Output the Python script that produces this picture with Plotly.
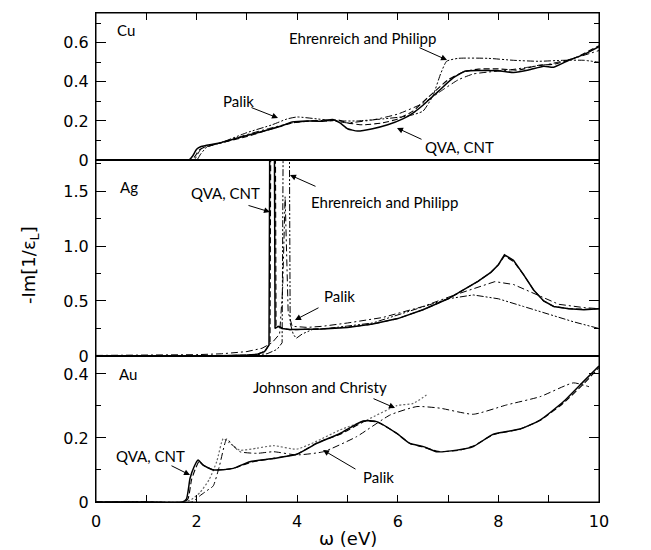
import plotly.graph_objects as go
from plotly.subplots import make_subplots

# ---------------- Cu panel data ----------------
cu_qva_x = [0, 1.0, 1.85, 1.92, 2.0, 2.08, 2.2, 2.5, 3.0, 3.5, 3.7, 3.9, 4.2, 4.5, 4.7, 4.85, 5.0, 5.2, 5.5, 5.8, 6.1, 6.3, 6.5, 6.8, 7.1, 7.35, 7.6, 8.0, 8.3, 8.6, 8.9, 9.1, 9.4, 9.7, 10.0]
cu_qva_y = [0, 0, 0, 0.02, 0.055, 0.068, 0.075, 0.09, 0.125, 0.16, 0.175, 0.195, 0.2, 0.198, 0.207, 0.19, 0.16, 0.148, 0.16, 0.18, 0.21, 0.24, 0.28, 0.35, 0.42, 0.455, 0.458, 0.457, 0.448, 0.46, 0.48, 0.475, 0.51, 0.54, 0.58]
cu_cnt_x = [0, 1.0, 1.9, 1.97, 2.05, 2.15, 2.3, 2.6, 3.0, 3.5, 3.9, 4.3, 4.6, 4.8, 5.0, 5.3, 5.7, 6.0, 6.3, 6.6, 7.0, 7.3, 7.6, 8.0, 8.4, 8.8, 9.1, 9.5, 10.0]
cu_cnt_y = [0, 0, 0, 0.02, 0.05, 0.065, 0.075, 0.095, 0.12, 0.16, 0.19, 0.2, 0.2, 0.205, 0.19, 0.18, 0.19, 0.21, 0.25, 0.32, 0.41, 0.45, 0.465, 0.466, 0.46, 0.485, 0.49, 0.52, 0.585]
cu_palik_x = [0, 1.0, 1.95, 2.02, 2.1, 2.25, 2.6, 3.0, 3.5, 3.9, 4.3, 4.7, 5.0, 5.5, 6.0, 6.5, 6.9, 7.2, 7.5, 7.8, 8.2, 8.6, 9.0, 9.5, 10.0]
cu_palik_y = [0, 0, 0, 0.03, 0.06, 0.072, 0.095, 0.13, 0.165, 0.19, 0.2, 0.2, 0.19, 0.205, 0.235, 0.29, 0.36, 0.41, 0.44, 0.45, 0.46, 0.475, 0.49, 0.52, 0.56]
cu_ep_x = [0, 1.0, 2.0, 2.08, 2.2, 2.5, 3.0, 3.5, 3.8, 4.0, 4.4, 4.8, 5.2, 5.7, 6.2, 6.5, 6.7, 6.85, 6.97, 7.2, 7.8, 8.3, 8.8, 9.3, 9.7, 10.0]
cu_ep_y = [0, 0, 0, 0.03, 0.065, 0.09, 0.14, 0.18, 0.21, 0.22, 0.21, 0.2, 0.2, 0.21, 0.225, 0.25, 0.33, 0.44, 0.505, 0.52, 0.52, 0.51, 0.505, 0.51, 0.51, 0.5]

# ---------------- Ag panel data ----------------
ag_qva_x = [0, 1.0, 2.0, 2.5, 3.0, 3.2, 3.35, 3.44, 3.5, 3.56, 3.62, 3.7, 3.85, 4.0, 4.5, 5.0, 5.5, 6.0, 6.5, 7.0, 7.3, 7.6, 7.85, 8.0, 8.12, 8.3, 8.5, 8.7, 8.9, 9.1, 9.4, 9.7, 10.0]
ag_qva_y = [0, 0, 0, 0.003, 0.008, 0.015, 0.04, 0.1, 8.0, 0.25, 0.27, 0.25, 0.24, 0.24, 0.245, 0.26, 0.29, 0.34, 0.42, 0.52, 0.6, 0.68, 0.76, 0.83, 0.92, 0.87, 0.74, 0.6, 0.5, 0.45, 0.43, 0.42, 0.43]
ag_cnt_x = [0, 1.0, 2.0, 2.5, 3.0, 3.2, 3.37, 3.46, 3.52, 3.58, 3.64, 3.72, 3.85, 4.0, 4.5, 5.0, 5.5, 6.0, 6.5, 7.0, 7.3, 7.6, 7.85, 8.0, 8.12, 8.3, 8.5, 8.7, 8.9, 9.1, 9.4, 9.7, 10.0]
ag_cnt_y = [0, 0, 0, 0.003, 0.008, 0.015, 0.045, 0.12, 8.0, 0.26, 0.27, 0.25, 0.24, 0.24, 0.248, 0.262, 0.29, 0.34, 0.42, 0.52, 0.6, 0.68, 0.76, 0.83, 0.91, 0.86, 0.74, 0.6, 0.5, 0.45, 0.43, 0.425, 0.43]
ag_palik_x = [0, 1.0, 2.0, 2.5, 3.0, 3.3, 3.5, 3.65, 3.71, 3.76, 3.82, 3.9, 4.2, 4.5, 5.0, 5.7, 6.5, 7.1, 7.6, 7.93, 8.3, 8.8, 9.2, 9.7, 10.0]
ag_palik_y = [0.005, 0.008, 0.012, 0.02, 0.04, 0.07, 0.12, 0.2, 0.6, 1.45, 0.4, 0.27, 0.26, 0.27, 0.3, 0.35, 0.45, 0.55, 0.63, 0.676, 0.65, 0.55, 0.47, 0.44, 0.43]
ag_ep_x = [0, 1.0, 2.0, 3.0, 3.4, 3.6, 3.7, 3.79, 3.86, 3.92, 3.98, 4.1, 4.3, 4.6, 5.5, 6.5, 7.0, 7.5, 8.0, 8.5, 9.0, 9.5, 10.0]
ag_ep_y = [0, 0, 0, 0.005, 0.02, 0.06, 0.12, 8.0, 0.3, 0.2, 0.16, 0.2, 0.24, 0.25, 0.3, 0.45, 0.52, 0.555, 0.52, 0.45, 0.38, 0.31, 0.25]

# ---------------- Au panel data ----------------
au_qva_x = [0, 1.0, 1.72, 1.8, 1.87, 1.95, 2.03, 2.13, 2.33, 2.73, 3.06, 3.53, 3.99, 4.39, 4.85, 5.31, 5.58, 5.98, 6.24, 6.51, 6.77, 7.17, 7.5, 7.9, 8.43, 8.83, 9.29, 9.69, 10.0]
au_qva_y = [0, 0, 0, 0.01, 0.074, 0.11, 0.131, 0.115, 0.1, 0.105, 0.126, 0.136, 0.149, 0.183, 0.214, 0.253, 0.251, 0.214, 0.183, 0.173, 0.157, 0.162, 0.173, 0.212, 0.228, 0.256, 0.313, 0.376, 0.425]
au_cnt_x = [0, 1.0, 1.75, 1.83, 1.9, 1.98, 2.05, 2.15, 2.35, 2.75, 3.1, 3.55, 4.0, 4.4, 4.9, 5.35, 5.6, 6.0, 6.25, 6.5, 6.8, 7.2, 7.5, 7.9, 8.45, 8.85, 9.3, 9.7, 10.0]
au_cnt_y = [0, 0, 0, 0.01, 0.07, 0.105, 0.127, 0.113, 0.1, 0.106, 0.125, 0.137, 0.15, 0.185, 0.215, 0.252, 0.249, 0.212, 0.182, 0.172, 0.158, 0.161, 0.175, 0.21, 0.229, 0.257, 0.31, 0.37, 0.42]
au_palik_x = [0, 1.0, 1.9, 2.07, 2.2, 2.33, 2.45, 2.6, 2.7, 2.86, 3.2, 3.53, 3.99, 4.52, 5.18, 5.85, 6.38, 6.84, 7.5, 8.16, 8.83, 9.49, 9.8]
au_palik_y = [0, 0, 0, 0.02, 0.035, 0.05, 0.11, 0.198, 0.18, 0.157, 0.152, 0.157, 0.147, 0.157, 0.204, 0.272, 0.298, 0.293, 0.274, 0.303, 0.329, 0.372, 0.36]
au_jc_x = [0, 1.0, 1.75, 1.9, 2.07, 2.25, 2.4, 2.53, 2.65, 2.86, 3.2, 3.53, 3.99, 4.39, 4.85, 5.38, 5.98, 6.31, 6.57]
au_jc_y = [0, 0, 0, 0.008, 0.03, 0.07, 0.126, 0.198, 0.185, 0.162, 0.168, 0.176, 0.165, 0.19, 0.225, 0.256, 0.301, 0.308, 0.334]

# ---------------- axis ticks ----------------
x_major = [0, 2, 4, 6, 8, 10]
x_major_text = ["0", "2", "4", "6", "8", "10"]
x_minor = [1, 3, 5, 7, 9]
cu_ticks = [0, 0.2, 0.4, 0.6]
cu_ticktext = ["0", "0.2", "0.4", "0.6"]
cu_minor = [0.1, 0.3, 0.5, 0.7]
ag_ticks = [0, 0.5, 1.0, 1.5]
ag_ticktext = ["0", "0.5", "1.0", "1.5"]
ag_minor = [0.25, 0.75, 1.25, 1.75]
au_ticks = [0, 0.2, 0.4]
au_ticktext = ["0", "0.2", "0.4"]
au_minor = [0.1, 0.3]

fig = make_subplots(rows=3, cols=1, shared_xaxes=True, vertical_spacing=0)

SOLID = dict(color="black", width=1.5)
CNT = dict(color="black", width=1.1, dash="6px,3px")
PALIK = dict(color="black", width=1.0, dash="7px,3px,2px,3px")
EP = dict(color="black", width=1.0, dash="7px,2px,2px,2px,2px,2px")
JC = dict(color="#666666", width=1.2, dash="2px,2px")

def add(x, y, line, row, shape="spline"):
    fig.add_trace(go.Scatter(x=x, y=y, mode="lines", line=dict(shape=shape, smoothing=0.5, **line),
                             showlegend=False, hoverinfo="skip"), row=row, col=1)

add(cu_ep_x, cu_ep_y, EP, 1)
add(cu_palik_x, cu_palik_y, PALIK, 1)
add(cu_cnt_x, cu_cnt_y, CNT, 1)
add(cu_qva_x, cu_qva_y, SOLID, 1)

add(ag_ep_x, ag_ep_y, EP, 2, "linear")
add(ag_palik_x, ag_palik_y, PALIK, 2, "linear")
add(ag_cnt_x, ag_cnt_y, CNT, 2, "linear")
add(ag_qva_x, ag_qva_y, SOLID, 2, "linear")

add(au_jc_x, au_jc_y, JC, 3)
add(au_palik_x, au_palik_y, PALIK, 3)
add(au_cnt_x, au_cnt_y, CNT, 3)
add(au_qva_x, au_qva_y, SOLID, 3)

TICKFONT = dict(family="DejaVu Sans", size=16, color="black")

def yax(ticks, text, minor, rng, dom):
    return dict(range=rng, domain=dom, tickmode="array", tickvals=ticks, ticktext=text,
                ticks="inside", ticklen=10, tickwidth=1, tickcolor="black", ticklabelstandoff=3,
                minor=dict(tickmode="array", tickvals=minor, ticks="inside", ticklen=5, tickcolor="black", tickwidth=1),
                showline=True, linecolor="black", linewidth=1, mirror="ticks",
                showgrid=False, zeroline=False, tickfont=TICKFONT, fixedrange=True)

fig.update_layout(
    yaxis=yax(cu_ticks, cu_ticktext, cu_minor, [0, 0.752], [0.6994, 1.0]),
    yaxis2=yax(ag_ticks, ag_ticktext, ag_minor, [0, 1.782], [0.2986, 0.6994]),
    yaxis3=yax(au_ticks, au_ticktext, au_minor, [0, 0.456], [0.0, 0.2986]),
)

xcommon = dict(range=[0, 10], showline=True, linecolor="black", linewidth=1, mirror=True,
               showgrid=False, zeroline=False)
fig.update_layout(
    xaxis=dict(**xcommon, side="top", ticks="inside", ticklen=7, tickcolor="black",
               tickmode="array", tickvals=x_major, showticklabels=False,
               minor=dict(tickmode="array", tickvals=x_minor, ticks="inside", ticklen=7, tickcolor="black")),
    xaxis2=dict(**xcommon, ticks="", showticklabels=False),
    xaxis3=dict(**xcommon, ticks="inside", ticklen=7, tickcolor="black", ticklabelstandoff=5,
                tickmode="array", tickvals=x_major, ticktext=x_major_text, tickfont=TICKFONT,
                minor=dict(tickmode="array", tickvals=x_minor, ticks="inside", ticklen=7, tickcolor="black")),
)

shapes = []
for xr, yr in [("x", "y"), ("x2", "y2"), ("x3", "y3")]:
    shapes.append(dict(type="rect", xref=f"{xr} domain", yref=f"{yr} domain", x0=0, x1=1, y0=0, y1=1,
                       line=dict(color="black", width=1), layer="above"))

L, R, T, B = 96, 599, 13, 502
W, H = 651, 550
def px2paper(px, py):
    return (px - L) / (R - L), (B - py) / (B - T)

LABFONT = dict(family="Lato", size=15, color="black")
annots = []
for txt, (px, py) in [("Cu", (126, 30)), ("Ag", (129, 187)), ("Au", (128, 374))]:
    xp, yp = px2paper(px, py)
    annots.append(dict(text=txt, x=xp, y=yp, xref="paper", yref="paper", showarrow=False,
                       xanchor="center", yanchor="middle",
                       font=dict(family="Lato", size=15, color="black")))

labels = [
    ("Ehrenreich and Philipp", 362, 38),
    ("Palik", 238, 101),
    ("QVA, CNT", 459, 147),
    ("QVA, CNT", 225, 193),
    ("Ehrenreich and Philipp", 384, 202),
    ("Palik", 339, 296),
    ("Johnson and Christy", 320, 387),
    ("QVA, CNT", 150, 456),
    ("Palik", 378, 477),
]
for txt, px, py in labels:
    xp, yp = px2paper(px, py)
    annots.append(dict(text=txt, x=xp, y=yp, xref="paper", yref="paper", showarrow=False,
                       xanchor="center", yanchor="middle", font=LABFONT))

arrows = [
    (418, 47, 447, 60),
    (250, 107, 278, 118),
    (423, 140, 397, 128),
    (247, 205, 270, 212),
    (317, 187, 290, 175),
    (320, 307, 295, 320),
    (372, 398, 395, 408),
    (170, 465, 190, 475),
    (357, 470, 323, 450),
]
for tx, ty, hx, hy in arrows:
    xp, yp = px2paper(hx, hy)
    annots.append(dict(text="", x=xp, y=yp, xref="paper", yref="paper", showarrow=True,
                       ax=tx - hx, ay=ty - hy, arrowhead=2, arrowsize=1.2, arrowwidth=1, arrowcolor="black"))

xp, yp = px2paper(348, 538)
annots.append(dict(text="ω (eV)", x=xp, y=yp, xref="paper", yref="paper", showarrow=False,
                   xanchor="center", yanchor="middle",
                   font=dict(family="DejaVu Sans", size=18, color="black")))
xp, yp = px2paper(30, 265)
annots.append(dict(text="-Im[1/ε<sub>L</sub>]", x=xp, y=yp, xref="paper", yref="paper", showarrow=False,
                   xanchor="center", yanchor="middle",
                   textangle=-90, font=dict(family="DejaVu Sans", size=18, color="black")))

fig.update_layout(annotations=annots, shapes=shapes, width=W, height=H,
                  margin=dict(l=L, r=W - R, t=T, b=H - B),
                  paper_bgcolor="white", plot_bgcolor="white", showlegend=False)

fig.write_html("out.html", config={"displayModeBar": False},
               post_script="document.body.style.margin='0px';document.body.style.overflow='hidden';")
